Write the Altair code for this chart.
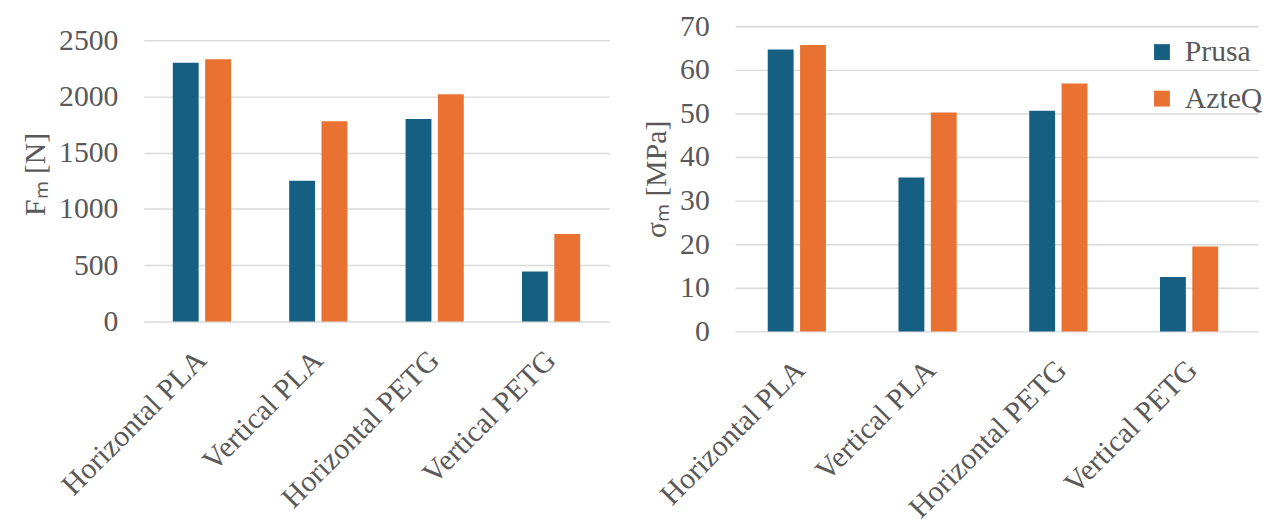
import altair as alt
import pandas as pd

categories = ["Horizontal PLA", "Vertical PLA", "Horizontal PETG", "Vertical PETG"]
series = ["Prusa", "AzteQ"]
force_prusa = [2300, 1250, 1800, 445]
force_azteq = [2330, 1780, 2020, 777]
stress_prusa = [64.7, 35.3, 50.6, 12.5]
stress_azteq = [65.7, 50.2, 56.9, 19.5]
force_ticks = [0, 500, 1000, 1500, 2000, 2500]
stress_ticks = [0, 10, 20, 30, 40, 50, 60, 70]
colors = ["#156082", "#E97132"]

FONT = "Liberation Serif"
GRAY = "#595959"
GRID = "#d9d9d9"
FS = 30


def make_df(p, a):
    rows = []
    for c, pv, av in zip(categories, p, a):
        rows.append({"cat": c, "series": "Prusa", "value": pv})
        rows.append({"cat": c, "series": "AzteQ", "value": av})
    return pd.DataFrame(rows)


df_f = make_df(force_prusa, force_azteq)
df_s = make_df(stress_prusa, stress_azteq)


def x_enc():
    return alt.X(
        "cat:N",
        sort=categories,
        scale=alt.Scale(paddingInner=0.5, paddingOuter=0.25),
        axis=alt.Axis(
            title=None, labelAngle=-45, labelAlign="right", labelBaseline="middle",
            ticks=False, domain=False, labelPadding=34, labelFont=FONT,
            labelFontSize=FS, labelColor=GRAY, labelLimit=500,
        ),
    )


def y_axis(title, values, lp, tp):
    return alt.Axis(
        title=title, values=values, format="d", grid=True, gridColor=GRID, gridWidth=1.5,
        domain=False, ticks=False, labelPadding=lp, titlePadding=tp,
        labelFont=FONT, labelFontSize=FS, labelColor=GRAY,
        titleFont=FONT, titleFontSize=FS, titleColor=GRAY, titleFontWeight="normal",
    )


left = alt.Chart(df_f).mark_bar().encode(
    x=x_enc(),
    xOffset=alt.XOffset("series:N", sort=series, scale=alt.Scale(paddingInner=0.2)),
    y=alt.Y("value:Q", scale=alt.Scale(domain=[0, 2623], nice=False),
            axis=y_axis("Fₘ [N]", force_ticks, 26, 8)),
    color=alt.Color("series:N", sort=series,
                    scale=alt.Scale(domain=series, range=colors), legend=None),
).properties(width=470, height=298)

right = alt.Chart(df_s).mark_bar().encode(
    x=x_enc(),
    xOffset=alt.XOffset("series:N", sort=series, scale=alt.Scale(paddingInner=0.2)),
    y=alt.Y("value:Q", scale=alt.Scale(domain=[0, 70], nice=False),
            axis=y_axis("σₘ  [MPa]", stress_ticks, 26, 8)),
    color=alt.Color(
        "series:N", sort=series, scale=alt.Scale(domain=series, range=colors),
        legend=alt.Legend(
            title=None, orient="none", legendX=416, legendY=11,
            symbolType="square", symbolSize=256, symbolStrokeWidth=0,
            labelFont=FONT, labelFontSize=FS, labelColor=GRAY,
            labelOffset=8, rowPadding=17,
        ),
    ),
).properties(width=528, height=308)

chart = (
    alt.hconcat(left, right, spacing=33)
    .resolve_scale(color="independent")
    .resolve_legend(color="independent")
    .configure_view(stroke=None)
    .configure_legend(labelFont=FONT, labelFontSize=FS, labelColor=GRAY)
    .properties(padding={"left": 13, "top": 1, "right": 0, "bottom": 0})
)

chart.save("out.html", embed_options={"renderer": "svg", "actions": False})
